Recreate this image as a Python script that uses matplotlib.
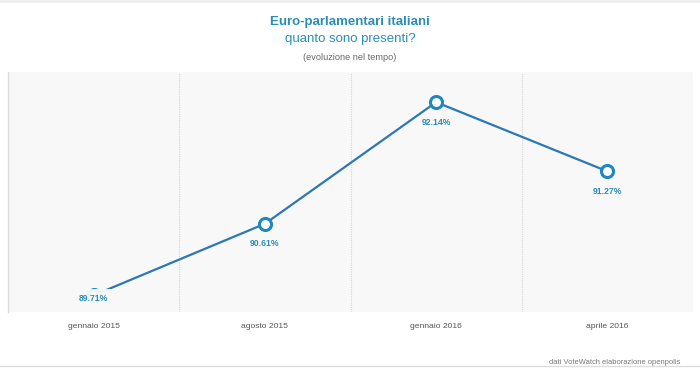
import matplotlib

matplotlib.use("Agg")
import matplotlib.pyplot as plt
import numpy as np

periods = ["gennaio 2015", "agosto 2015", "gennaio 2016", "aprile 2016"]
presence = [89.71, 90.61, 92.14, 91.27]
value_labels = ["89.71%", "90.61%", "92.14%", "91.27%"]

LINE = "#2b78b5"
TEAL = "#2a8db8"
Y_MIN, Y_MAX = 89.5, 92.52

plt.rcParams["font.family"] = ["Liberation Sans", "DejaVu Sans"]

fig = plt.figure(figsize=(7.0, 3.68), dpi=100)
fig.patch.set_facecolor("white")
W, H = 700, 368
ax = fig.add_axes([8 / W, 1 - 312 / H, 685 / W, 240 / H])
ax.set_facecolor("#f8f8f8")

x = np.arange(len(periods))
ax.set_xlim(-0.5, len(periods) - 0.5)
ax.set_ylim(Y_MIN, Y_MAX)

for b in np.arange(len(periods) + 1) - 0.5:
    ax.axvline(b, color="#d4d4d4", lw=0.8, ls=(0, (1, 1)), zorder=1)

ax.plot(x, presence, color=LINE, lw=1.6, zorder=3, clip_on=False)
ax.scatter(x, presence, s=75, facecolor="white", edgecolor="#1f87bd", linewidth=2.2, zorder=4, clip_on=False)

for xi, v, lab in zip(x, presence, value_labels):
    # label sits 20 px under the point; near the bottom it is pushed up and covers the point
    y_lab = v - 0.25
    box = None
    if y_lab < Y_MIN + 0.17:
        y_lab = Y_MIN + 0.17
        box = dict(boxstyle="square,pad=0.6", facecolor="#f8f8f8", edgecolor="none", alpha=0.95)
    ax.text(xi, y_lab, lab, ha="center", va="center", fontsize=6.2, fontweight="bold", color=TEAL, zorder=5,
            bbox=box)

ax.set_xticks(x)
ax.set_xticklabels(periods, fontsize=6.1, color="#555555")
ax.tick_params(axis="x", length=0, pad=8)
ax.set_yticks([])
for side in ["top", "right", "bottom"]:
    ax.spines[side].set_visible(False)
ax.spines["left"].set_color("#dddddd")
ax.spines["left"].set_linewidth(1.0)

fig.text(0.5, 1 - 22 / H, "Euro-parlamentari italiani", ha="center", va="center", fontsize=9.5,
         fontweight="bold", color=TEAL)
fig.text(0.5, 1 - 39 / H, "quanto sono presenti?", ha="center", va="center", fontsize=9.5, color=TEAL)
fig.text(0.5, 1 - 58 / H, "(evoluzione nel tempo)", ha="center", va="center", fontsize=6.6, color="#666666")
fig.text(680 / W, 1 - 363 / H, "dati VoteWatch elaborazione openpolis", ha="right", va="center",
         fontsize=5.4, color="#777777")

fig.add_artist(plt.Line2D([0, 1], [1 - 366 / H, 1 - 366 / H], transform=fig.transFigure, color="#dddddd", lw=1))
fig.add_artist(plt.Line2D([0, 1], [1 - 1 / H, 1 - 1 / H], transform=fig.transFigure, color="#eeeeee", lw=2))

fig.savefig("out.png", dpi=100)
